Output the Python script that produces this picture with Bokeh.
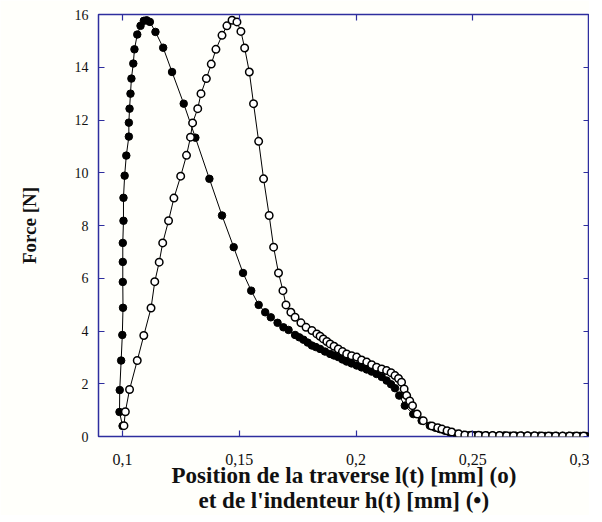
from bokeh.plotting import figure
from bokeh.models import FixedTicker, LinearAxis, Range1d, ColumnDataSource
from bokeh.embed import file_html
from bokeh.resources import INLINE

# --- data ---
h_x = [0.1000, 0.0987, 0.0988, 0.0994, 0.0999, 0.1002, 0.1001, 0.1001, 0.1001, 0.1004,
       0.1004, 0.1009, 0.1016, 0.1027, 0.1027, 0.1030, 0.1034, 0.1038, 0.1046, 0.1051,
       0.1063, 0.1077, 0.1091, 0.1103, 0.1117, 0.1141, 0.1174, 0.1212, 0.1262, 0.1312,
       0.1372, 0.1426, 0.1476, 0.1516, 0.1551, 0.1583, 0.1611, 0.1635, 0.1664, 0.1689,
       0.1711, 0.1739, 0.1757, 0.1775, 0.1793, 0.1811, 0.1828, 0.1846, 0.1867, 0.1889,
       0.1906, 0.1924, 0.1942, 0.1960, 0.1981, 0.2003, 0.2024, 0.2046, 0.2067, 0.2088,
       0.2110, 0.2131, 0.2150, 0.2167, 0.2185, 0.2209, 0.2245, 0.2281, 0.2316, 0.2340,
       0.2359, 0.2380, 0.2402, 0.2430, 0.2459, 0.2485, 0.2510, 0.2535, 0.2560, 0.2585,
       0.2610, 0.2635, 0.2660, 0.2685, 0.2710, 0.2735, 0.2760, 0.2785, 0.2810, 0.2835,
       0.2860, 0.2885, 0.2910, 0.2935, 0.2960, 0.2985]
h_y = [0.40, 0.93, 1.76, 2.88, 3.85, 4.88, 5.86, 6.62, 7.34, 8.18,
       9.05, 9.89, 10.65, 11.37, 11.90, 12.43, 13.00, 13.57, 14.14, 14.68,
       15.24, 15.57, 15.76, 15.78, 15.72, 15.34, 14.74, 13.82, 12.62, 11.33,
       9.77, 8.38, 7.18, 6.20, 5.53, 4.99, 4.71, 4.52, 4.31, 4.14,
       4.04, 3.85, 3.76, 3.67, 3.56, 3.45, 3.39, 3.32, 3.22, 3.13,
       3.07, 3.01, 2.92, 2.84, 2.77, 2.69, 2.62, 2.54, 2.46, 2.37,
       2.26, 2.12, 1.98, 1.83, 1.55, 1.17, 0.85, 0.60, 0.41, 0.33,
       0.28, 0.22, 0.16, 0.10, 0.06, 0.05, 0.05, 0.04, 0.04, 0.04,
       0.03, 0.04, 0.03, 0.03, 0.03, 0.03, 0.02, 0.03, 0.02, 0.02,
       0.02, 0.02, 0.02, 0.02, 0.02, 0.02]

l_x = [0.1006, 0.1012, 0.1030, 0.1063, 0.1091, 0.1122, 0.1138, 0.1157, 0.1172, 0.1197,
       0.1220, 0.1249, 0.1274, 0.1291, 0.1300, 0.1322, 0.1336, 0.1359, 0.1380, 0.1400,
       0.1426, 0.1447, 0.1469, 0.1490, 0.1507, 0.1523, 0.1543, 0.1561, 0.1583, 0.1604,
       0.1628, 0.1647, 0.1668, 0.1687, 0.1700, 0.1721, 0.1739, 0.1764, 0.1786, 0.1811,
       0.1832, 0.1846, 0.1860, 0.1875, 0.1889, 0.1906, 0.1924, 0.1942, 0.1960, 0.1981,
       0.2003, 0.2024, 0.2046, 0.2067, 0.2088, 0.2110, 0.2131, 0.2150, 0.2167, 0.2182,
       0.2195, 0.2206, 0.2217, 0.2230, 0.2242, 0.2262, 0.2288, 0.2325, 0.2350, 0.2368,
       0.2390, 0.2410, 0.2440, 0.2466, 0.2495, 0.2525, 0.2555, 0.2585, 0.2615, 0.2645,
       0.2675, 0.2705, 0.2735, 0.2765, 0.2795, 0.2825, 0.2855, 0.2885, 0.2915, 0.2945,
       0.2975]
l_y = [0.41, 0.94, 1.78, 2.88, 3.83, 4.87, 5.87, 6.61, 7.34, 8.18,
       9.04, 9.87, 10.66, 11.35, 11.89, 12.43, 13.00, 13.57, 14.12, 14.68,
       15.21, 15.57, 15.78, 15.72, 15.36, 14.73, 13.82, 12.62, 11.19, 9.77,
       8.38, 7.18, 6.20, 5.53, 4.99, 4.71, 4.52, 4.31, 4.14, 4.02,
       3.89, 3.80, 3.70, 3.60, 3.51, 3.42, 3.32, 3.22, 3.13, 3.06,
       3.01, 2.90, 2.82, 2.72, 2.63, 2.56, 2.50, 2.42, 2.31, 2.20,
       2.06, 1.80, 1.55, 1.35, 1.17, 0.85, 0.60, 0.40, 0.33, 0.28,
       0.22, 0.17, 0.10, 0.06, 0.05, 0.05, 0.04, 0.04, 0.04, 0.03,
       0.03, 0.03, 0.03, 0.03, 0.02, 0.02, 0.02, 0.02, 0.02, 0.02,
       0.02]

x_ticks = [0.1, 0.15, 0.2, 0.25, 0.3]
x_tick_labels = ["0,1", "0,15", "0,2", "0,25", "0,3"]
y_ticks = [0, 2, 4, 6, 8, 10, 12, 14, 16]

x_title = "Position de la traverse l(t) [mm] (o)\net de l'indenteur h(t) [mm] (\u2022)"
y_title = "Force [N]"

BLUE = "#2e2e9e"
BG = "#fffffb"
FONT = "Liberation Serif"

p = figure(frame_width=491, frame_height=422, output_backend="svg", toolbar_location=None,
           x_range=Range1d(0.0897, 0.3), y_range=Range1d(0, 16),
           x_axis_location=None, y_axis_location=None,
           min_border_left=98, min_border_right=0, min_border_top=14, min_border_bottom=70,
           background_fill_color=BG, border_fill_color=BG)
p.grid.visible = False
p.outline_line_color = BLUE
p.outline_line_width = 1.5


def style_axis(ax, ticks, show_labels):
    ax.ticker = FixedTicker(ticks=ticks)
    ax.axis_line_color = None
    ax.major_tick_line_color = BLUE
    ax.major_tick_line_width = 1.2
    ax.major_tick_in = 6
    ax.major_tick_out = 0
    ax.minor_tick_line_color = None
    ax.major_label_text_font = FONT
    ax.major_label_text_font_size = "16px"
    ax.major_label_text_color = "#111111"
    ax.axis_label_text_font = FONT
    ax.axis_label_text_font_style = "bold"
    ax.axis_label_text_font_size = "19px"
    ax.axis_label_text_color = "#111111"
    if not show_labels:
        ax.major_label_overrides = {t: "" for t in ticks}
        ax.major_label_standoff = 0


xb = LinearAxis()
style_axis(xb, x_ticks, True)
xb.major_label_overrides = {t: s for t, s in zip(x_ticks, x_tick_labels)}
xb.major_label_standoff = 17
xb.axis_label = x_title
xb.axis_label_text_font_size = "23px"
xb.axis_label_text_line_height = 1.0
xb.axis_label_standoff = -5
p.add_layout(xb, "below")

yl = LinearAxis()
style_axis(yl, y_ticks, True)
yl.major_label_text_font_size = "14px"
yl.major_label_standoff = 10
yl.axis_label = y_title
yl.axis_label_standoff = 32
p.add_layout(yl, "left")

xt = LinearAxis()
style_axis(xt, x_ticks, False)
p.add_layout(xt, "above")

yr = LinearAxis()
style_axis(yr, y_ticks, False)
p.add_layout(yr, "right")

src_h = ColumnDataSource(dict(x=h_x, y=h_y))
src_l = ColumnDataSource(dict(x=l_x, y=l_y))

p.line("x", "y", source=src_h, line_color="black", line_width=1)
p.line("x", "y", source=src_l, line_color="black", line_width=1)
p.scatter("x", "y", source=src_h, marker="circle", size=7.5,
          fill_color="black", line_color="black")
p.scatter("x", "y", source=src_l, marker="circle", size=7.5,
          fill_color="white", line_color="black", line_width=1.5)

open("out.html", "w").write(file_html(p, INLINE))
